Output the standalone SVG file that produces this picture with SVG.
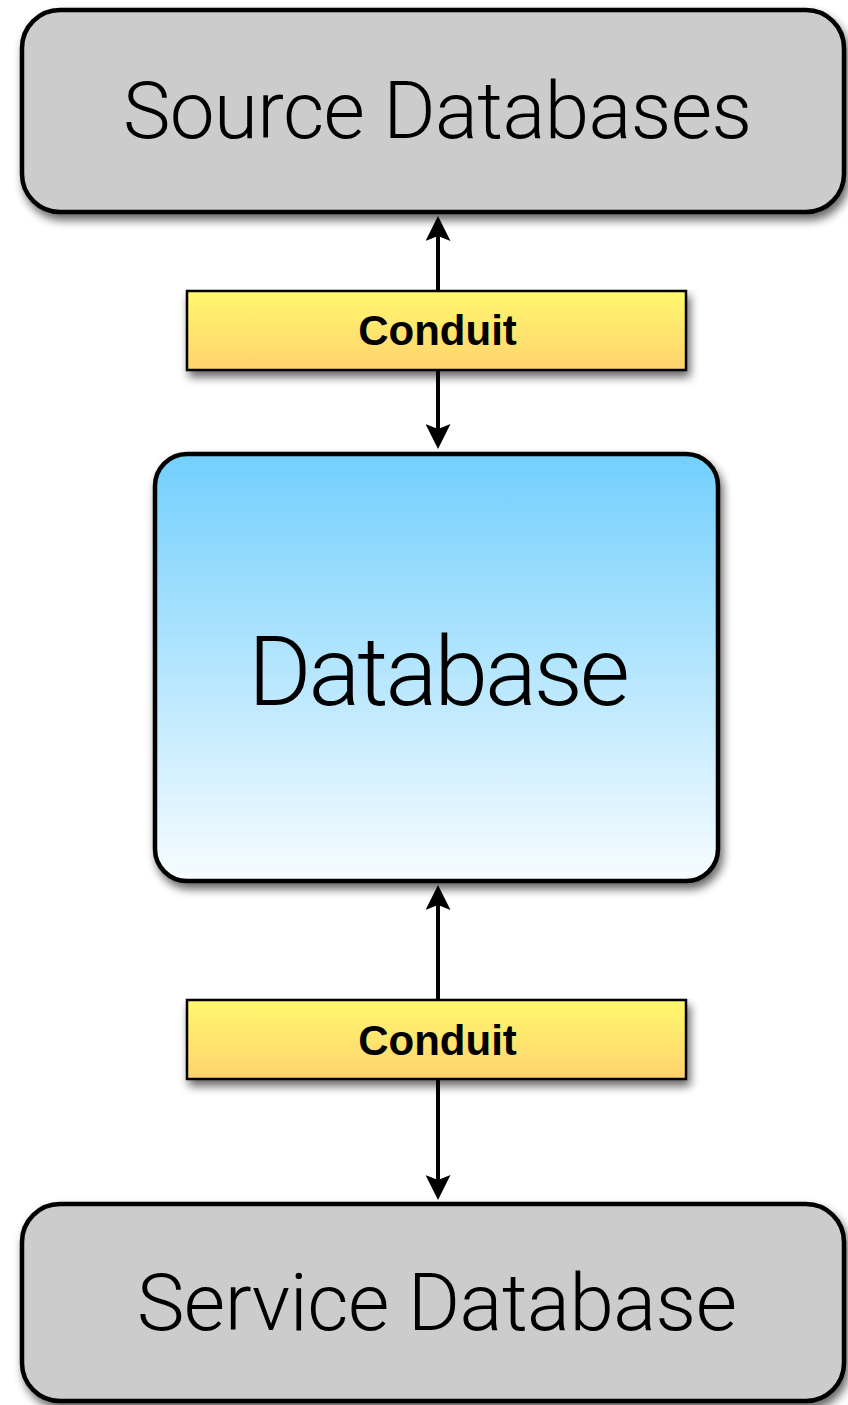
<svg xmlns="http://www.w3.org/2000/svg" width="848" height="1405" viewBox="0 0 848 1405">
  <style>
    .store { fill: #cccccc; stroke: #000; stroke-width: 4.5; }
    .core { fill: url(#coreFill); stroke: #000; stroke-width: 4.5; }
    .pipe { fill: url(#pipeFill); stroke: #000; stroke-width: 2.5; }
    .big { font-family: "Helvetica Neue", "Roboto Light", Roboto, "Liberation Sans", sans-serif; font-weight: 300; fill: #000; text-anchor: middle; }
    .small { font-family: "Liberation Sans", Arial, sans-serif; font-weight: bold; font-size: 42px; fill: #000; text-anchor: middle; }
    .link { stroke: #000; stroke-width: 4; fill: none; marker-end: url(#head); }
  </style>
  <defs>
    <linearGradient id="coreFill" x1="0" y1="0" x2="0" y2="1">
      <stop offset="0" stop-color="#72cffd"/>
      <stop offset="1" stop-color="#f7fcff"/>
    </linearGradient>
    <linearGradient id="pipeFill" x1="0" y1="0" x2="0" y2="1">
      <stop offset="0" stop-color="#fff86e"/>
      <stop offset="1" stop-color="#ffd26e"/>
    </linearGradient>
    <filter id="shadow" x="-10%" y="-10%" width="130%" height="140%">
      <feGaussianBlur in="SourceAlpha" stdDeviation="5"/>
      <feOffset dx="3" dy="6" result="blur"/>
      <feComponentTransfer><feFuncA type="linear" slope="0.6"/></feComponentTransfer>
      <feMerge><feMergeNode/><feMergeNode in="SourceGraphic"/></feMerge>
    </filter>
    <marker id="head" markerUnits="userSpaceOnUse" viewBox="0 0 25 25" markerWidth="25" markerHeight="25" refX="5" refY="12.5" orient="auto">
      <path d="M0,0 L25,12.5 L0,25 L5,12.5 Z" fill="#000"/>
    </marker>
  </defs>

  <rect width="848" height="1405" fill="#fff"/>

  <g id="connectors">
    <line class="link" x1="438" y1="291" x2="438" y2="236"/>
    <line class="link" x1="438" y1="370" x2="438" y2="429"/>
    <line class="link" x1="438" y1="1000" x2="438" y2="905"/>
    <line class="link" x1="438" y1="1080" x2="438" y2="1180"/>
  </g>

  <g id="source-databases">
    <rect class="store" x="22" y="10" width="822" height="202" rx="38" filter="url(#shadow)"/>
    <text class="big" x="437.5" y="138" font-size="80" textLength="629">Source Databases</text>
  </g>

  <g id="conduit-upper">
    <rect class="pipe" x="187" y="291" width="499" height="79" filter="url(#shadow)"/>
    <text class="small" x="437.5" y="345">Conduit</text>
  </g>

  <g id="database">
    <rect class="core" x="155" y="454" width="563" height="427" rx="32" filter="url(#shadow)"/>
    <text class="big" x="439" y="705" font-size="97" textLength="382">Database</text>
  </g>

  <g id="conduit-lower">
    <rect class="pipe" x="187" y="1000" width="499" height="79" filter="url(#shadow)"/>
    <text class="small" x="437.5" y="1055">Conduit</text>
  </g>

  <g id="service-database">
    <rect class="store" x="22" y="1204" width="822" height="197" rx="38" filter="url(#shadow)"/>
    <text class="big" x="437" y="1330" font-size="80" textLength="600">Service Database</text>
  </g>
</svg>
